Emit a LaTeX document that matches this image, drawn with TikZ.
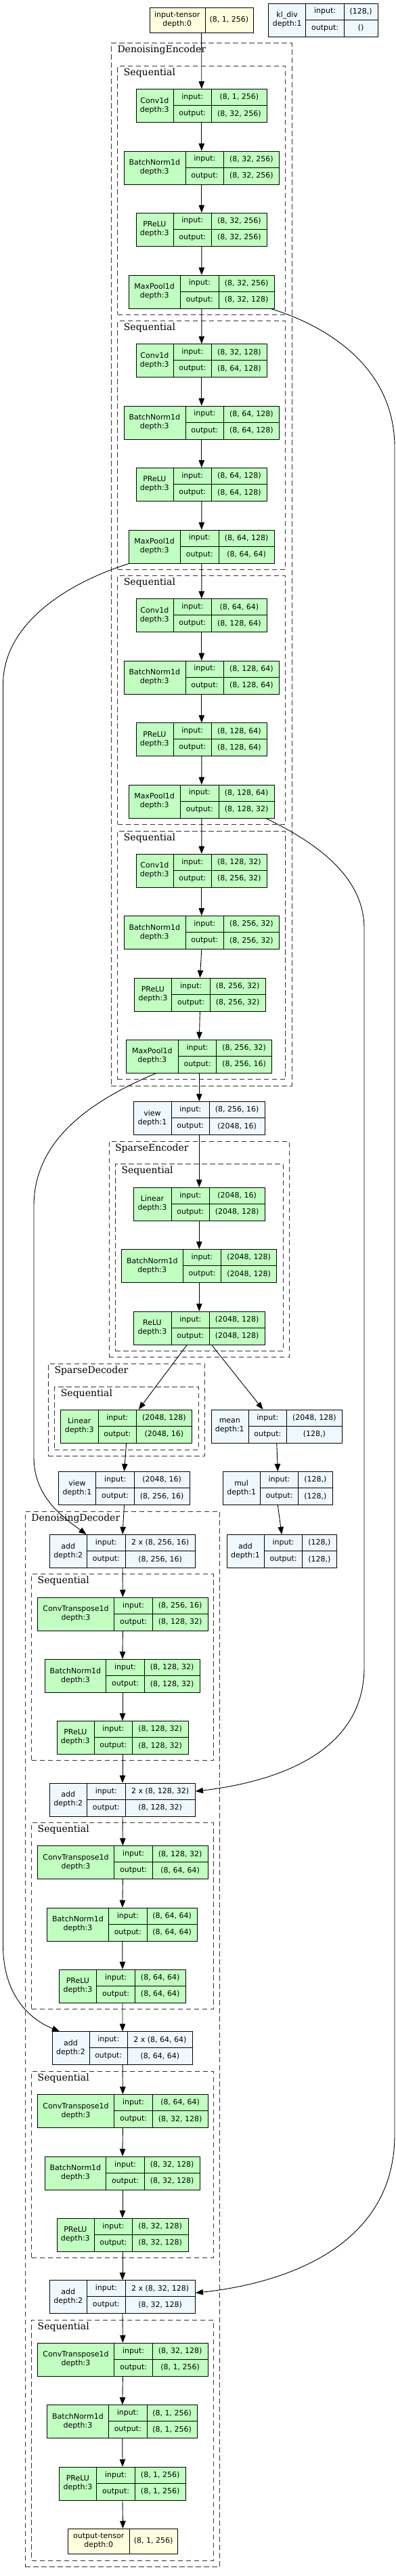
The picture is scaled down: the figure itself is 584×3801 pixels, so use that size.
\documentclass[tikz,border=0pt]{standalone}
\usepackage{fontspec}
\setmainfont{DejaVu Sans}
\newfontfamily\clusterfont{DejaVu Serif}
\usepackage{tikz}
\usetikzlibrary{arrows.meta}
\definecolor{tvgreen}{HTML}{C1FFC1}
\definecolor{tvyellow}{HTML}{FFFFE0}
\definecolor{tvblue}{HTML}{F0F8FF}

% a module box: name, fill, left x, title/input x, right x, top y, title, input, output
\newcommand\tvlayer[9]{%
  \node[tvbox,fill=#2,minimum width={(#5-#3)*1pt},anchor=north west] (#1) at (#3,#6) {};
  \draw[cellrule] (#4,#6) -- ++(0,49) ({#4+56.5},#6) -- ++(0,49)
    (#4,{#6+24.5}) -- (#5,{#6+24.5});
  \node[celltext] (#1-title) at ({(#3+#4)/2},{#6+24.5}) {#7};
  \node[celltext] (#1-in) at ({#4+28.25},{#6+12.25}) {input:};
  \node[celltext] (#1-out) at ({#4+28.25},{#6+36.75}) {output:};
  \node[celltext] (#1-inval) at ({(#4+56.5+#5)/2},{#6+12.25}) {#8};
  \node[celltext] (#1-outval) at ({(#4+56.5+#5)/2},{#6+36.75}) {#9};}
% a tensor box: name, left x, divider x, right x, top y, title, shape
\newcommand\tvtensor[7]{%
  \node[tvbox,fill=tvyellow,minimum width={(#4-#2)*1pt},minimum height=37.5pt,
        anchor=north west] (#1) at (#2,#5) {};
  \draw[cellrule] (#3,#5) -- ++(0,37.5);
  \node[celltext] (#1-title) at ({(#2+#3)/2},{#5+18.75}) {#6};
  \node[celltext] (#1-val) at ({(#3+#4)/2},{#5+18.75}) {#7};}
% a dashed cluster: name, left, top, right, bottom, label
\newcommand\tvcluster[6]{%
  \node[cluster,minimum width={(#4-#2)*1pt},minimum height={(#5-#3)*1pt},
        anchor=north west] (#1) at (#2,#3) {};
  \node[clusterlabel] (#1-label) at ({#2+9.4},{#3+10.7}) {#6};}

\begin{document}
\begin{tikzpicture}[
  x=1pt,y=-1pt,
  tvbox/.style={draw=black,line width=0.9pt,inner sep=0pt,minimum height=49pt},
  cellrule/.style={draw=black,line width=0.9pt},
  celltext/.style={inner sep=0pt,align=center,font=\fontsize{11}{13}\selectfont},
  cluster/.style={draw=black!80,line width=0.9pt,dash pattern=on 7.5pt off 4.5pt,
                  inner sep=0pt},
  clusterlabel/.style={anchor=west,inner sep=0pt,
                       font=\clusterfont\fontsize{14}{16}\selectfont},
  flow/.style={-{Triangle[length=11pt,width=8.5pt]},line width=0.9pt,draw=black},
]
\useasboundingbox (0,0) rectangle (584,3801);

% clusters
\tvcluster{enc}{163.9}{63.3}{430.5}{1601.7}{DenoisingEncoder}
\tvcluster{encseqa}{173.3}{97.3}{421.1}{464}{Sequential}
\tvcluster{encseqb}{173.3}{473.3}{421.1}{840}{Sequential}
\tvcluster{encseqc}{173.3}{849.3}{421.1}{1216}{Sequential}
\tvcluster{encseqd}{173.3}{1225.7}{421.1}{1592.3}{Sequential}
\tvcluster{senc}{160.5}{1684}{427.1}{2002.3}{SparseEncoder}
\tvcluster{sencseq}{169.9}{1717.3}{417.8}{1993}{Sequential}
\tvcluster{sdec}{70.9}{2012}{301.9}{2148}{SparseDecoder}
\tvcluster{sdecseq}{80.3}{2046}{292.5}{2138.7}{Sequential}
\tvcluster{dec}{36.8}{2230}{324.4}{3786.7}{DenoisingDecoder}
\tvcluster{decseqa}{46.1}{2322.3}{315}{2597.3}{Sequential}
\tvcluster{decseqb}{46.1}{2689.3}{315}{2964.3}{Sequential}
\tvcluster{decseqc}{46.1}{3056}{315}{3331}{Sequential}
\tvcluster{decseqd}{46.1}{3422.7}{315}{3777.7}{Sequential}

% input and the loss term
\tvtensor{input}{220.5}{303}{373.9}{10.7}{input-tensor\\depth:0}{(8, 1, 256)}
\tvlayer{kldiv}{tvblue}{396.4}{451.9}{558}{4.7}{kl\_div\\depth:1}{(128,)}{()}

% denoising encoder
\tvlayer{conv1}{tvgreen}{200.6}{256.1}{394.1}{131}{Conv1d\\depth:3}{(8, 1, 256)}{(8, 32, 256)}
\tvlayer{norm1}{tvgreen}{182.6}{274.1}{412.1}{222.7}{BatchNorm1d\\depth:3}{(8, 32, 256)}{(8, 32, 256)}
\tvlayer{prelu1}{tvgreen}{200.6}{256.1}{394.1}{313.7}{PReLU\\depth:3}{(8, 32, 256)}{(8, 32, 256)}
\tvlayer{pool1}{tvgreen}{189.8}{266.6}{405}{405.7}{MaxPool1d\\depth:3}{(8, 32, 256)}{(8, 32, 128)}
\tvlayer{conv2}{tvgreen}{200.6}{256.1}{394.1}{507.3}{Conv1d\\depth:3}{(8, 32, 128)}{(8, 64, 128)}
\tvlayer{norm2}{tvgreen}{182.6}{274.1}{412.1}{598.7}{BatchNorm1d\\depth:3}{(8, 64, 128)}{(8, 64, 128)}
\tvlayer{prelu2}{tvgreen}{200.6}{256.1}{394.1}{690}{PReLU\\depth:3}{(8, 64, 128)}{(8, 64, 128)}
\tvlayer{pool2}{tvgreen}{189.8}{266.6}{405}{781.7}{MaxPool1d\\depth:3}{(8, 64, 128)}{(8, 64, 64)}
\tvlayer{conv3}{tvgreen}{200.6}{256.1}{394.1}{883.3}{Conv1d\\depth:3}{(8, 64, 64)}{(8, 128, 64)}
\tvlayer{norm3}{tvgreen}{182.6}{274.1}{412.1}{974.7}{BatchNorm1d\\depth:3}{(8, 128, 64)}{(8, 128, 64)}
\tvlayer{prelu3}{tvgreen}{200.6}{256.1}{394.1}{1066.3}{PReLU\\depth:3}{(8, 128, 64)}{(8, 128, 64)}
\tvlayer{pool3}{tvgreen}{189.8}{266.6}{405}{1157.7}{MaxPool1d\\depth:3}{(8, 128, 64)}{(8, 128, 32)}
\tvlayer{conv4}{tvgreen}{200.6}{256.1}{394.1}{1259.7}{Conv1d\\depth:3}{(8, 128, 32)}{(8, 256, 32)}
\tvlayer{norm4}{tvgreen}{182.6}{274.1}{412.1}{1351}{BatchNorm1d\\depth:3}{(8, 256, 32)}{(8, 256, 32)}
\tvlayer{prelu4}{tvgreen}{198}{253.9}{391.9}{1442.7}{PReLU\\depth:3}{(8, 256, 32)}{(8, 256, 32)}
\tvlayer{pool4}{tvgreen}{186.4}{263.3}{401.3}{1533.7}{MaxPool1d\\depth:3}{(8, 256, 32)}{(8, 256, 16)}

% sparse encoder / decoder
\tvlayer{view1}{tvblue}{196.9}{253.1}{390.8}{1625}{view\\depth:1}{(8, 256, 16)}{(2048, 16)}
\tvlayer{linear1}{tvgreen}{196.9}{253.1}{390.8}{1751.7}{Linear\\depth:3}{(2048, 16)}{(2048, 128)}
\tvlayer{norm5}{tvgreen}{179.3}{270.4}{408.4}{1843}{BatchNorm1d\\depth:3}{(2048, 128)}{(2048, 128)}
\tvlayer{relu}{tvgreen}{196.9}{253.1}{390.8}{1934.7}{ReLU\\depth:3}{(2048, 128)}{(2048, 128)}
\tvlayer{linear2}{tvgreen}{89.3}{145.1}{283.1}{2079.7}{Linear\\depth:3}{(2048, 128)}{(2048, 16)}
\tvlayer{mean}{tvblue}{311.6}{367.1}{505.1}{2079.7}{mean\\depth:1}{(2048, 128)}{(128,)}
\tvlayer{view2}{tvblue}{86.3}{141.8}{279.8}{2171}{view\\depth:1}{(2048, 16)}{(8, 256, 16)}
\tvlayer{mul}{tvblue}{328.9}{384.4}{490.9}{2171}{mul\\depth:1}{(128,)}{(128,)}
\tvlayer{addk}{tvblue}{334.5}{390.4}{496.9}{2264}{add\\depth:1}{(128,)}{(128,)}

% denoising decoder
\tvlayer{add1}{tvblue}{73.1}{128.6}{288}{2264}{add\\depth:2}{2 x (8, 256, 16)}{(8, 256, 16)}
\tvlayer{deconv1}{tvgreen}{55.1}{168.8}{306.8}{2356.7}{ConvTranspose1d\\depth:3}{(8, 256, 16)}{(8, 128, 32)}
\tvlayer{dnorm1}{tvgreen}{66}{156.8}{295.1}{2448}{BatchNorm1d\\depth:3}{(8, 128, 32)}{(8, 128, 32)}
\tvlayer{dprelu1}{tvgreen}{83.6}{139.1}{277.5}{2539}{PReLU\\depth:3}{(8, 128, 32)}{(8, 128, 32)}
\tvlayer{add2}{tvblue}{73.1}{128.6}{288}{2630.7}{add\\depth:2}{2 x (8, 128, 32)}{(8, 128, 32)}
\tvlayer{deconv2}{tvgreen}{55.1}{168.8}{306.8}{2723.3}{ConvTranspose1d\\depth:3}{(8, 128, 32)}{(8, 64, 64)}
\tvlayer{dnorm2}{tvgreen}{69.4}{160.5}{291.4}{2814.7}{BatchNorm1d\\depth:3}{(8, 64, 64)}{(8, 64, 64)}
\tvlayer{dprelu2}{tvgreen}{87}{142.9}{274.1}{2905.7}{PReLU\\depth:3}{(8, 64, 64)}{(8, 64, 64)}
\tvlayer{add3}{tvblue}{76.9}{132}{284.3}{2997.3}{add\\depth:2}{2 x (8, 64, 64)}{(8, 64, 64)}
\tvlayer{deconv3}{tvgreen}{55.1}{168.8}{306.8}{3090}{ConvTranspose1d\\depth:3}{(8, 64, 64)}{(8, 32, 128)}
\tvlayer{dnorm3}{tvgreen}{66}{156.8}{295.1}{3181.7}{BatchNorm1d\\depth:3}{(8, 32, 128)}{(8, 32, 128)}
\tvlayer{dprelu3}{tvgreen}{83.6}{139.1}{277.5}{3272.7}{PReLU\\depth:3}{(8, 32, 128)}{(8, 32, 128)}
\tvlayer{add4}{tvblue}{73.1}{128.6}{288}{3364.3}{add\\depth:2}{2 x (8, 32, 128)}{(8, 32, 128)}
\tvlayer{deconv4}{tvgreen}{55.1}{168.8}{306.8}{3456.7}{ConvTranspose1d\\depth:3}{(8, 32, 128)}{(8, 1, 256)}
\tvlayer{dnorm4}{tvgreen}{69.4}{160.5}{291.4}{3548.3}{BatchNorm1d\\depth:3}{(8, 1, 256)}{(8, 1, 256)}
\tvlayer{dprelu4}{tvgreen}{87}{142.9}{274.1}{3639.7}{PReLU\\depth:3}{(8, 1, 256)}{(8, 1, 256)}
\tvtensor{output}{100.1}{191.3}{262.1}{3730.7}{output-tensor\\depth:0}{(8, 1, 256)}

% main chain
\draw[flow] (input.south) -- (conv1.north);
\draw[flow] (conv1.south) -- (norm1.north);
\draw[flow] (norm1.south) -- (prelu1.north);
\draw[flow] (prelu1.south) -- (pool1.north);
\draw[flow] (pool1.south) -- (conv2.north);
\draw[flow] (conv2.south) -- (norm2.north);
\draw[flow] (norm2.south) -- (prelu2.north);
\draw[flow] (prelu2.south) -- (pool2.north);
\draw[flow] (pool2.south) -- (conv3.north);
\draw[flow] (conv3.south) -- (norm3.north);
\draw[flow] (norm3.south) -- (prelu3.north);
\draw[flow] (prelu3.south) -- (pool3.north);
\draw[flow] (pool3.south) -- (conv4.north);
\draw[flow] (conv4.south) -- (norm4.north);
\draw[flow] (norm4.south) -- (prelu4.north);
\draw[flow] (prelu4.south) -- (pool4.north);
\draw[flow] (pool4.south) -- (view1.north);
\draw[flow] (view1.south) -- (linear1.north);
\draw[flow] (linear1.south) -- (norm5.north);
\draw[flow] (norm5.south) -- (relu.north);
\draw[flow] ([xshift=-18.2pt]relu.south) -- ([xshift=18.2pt]linear2.north);
\draw[flow] ([xshift=18.5pt]relu.south) -- ([xshift=-20.3pt]mean.north);
\draw[flow] (linear2.south) -- (view2.north);
\draw[flow] (mean.south) -- (mul.north);
\draw[flow] (mul.south) -- (addk.north);
\draw[flow] (view2.south) -- (add1.north);
\draw[flow] (add1.south) -- (deconv1.north);
\draw[flow] (deconv1.south) -- (dnorm1.north);
\draw[flow] (dnorm1.south) -- (dprelu1.north);
\draw[flow] (dprelu1.south) -- (add2.north);
\draw[flow] (add2.south) -- (deconv2.north);
\draw[flow] (deconv2.south) -- (dnorm2.north);
\draw[flow] (dnorm2.south) -- (dprelu2.north);
\draw[flow] (dprelu2.south) -- (add3.north);
\draw[flow] (add3.south) -- (deconv3.north);
\draw[flow] (deconv3.south) -- (dnorm3.north);
\draw[flow] (dnorm3.south) -- (dprelu3.north);
\draw[flow] (dprelu3.south) -- (add4.north);
\draw[flow] (add4.south) -- (deconv4.north);
\draw[flow] (deconv4.south) -- (dnorm4.north);
\draw[flow] (dnorm4.south) -- (dprelu4.north);
\draw[flow] (dprelu4.south) -- (output.north);

% skip connections
\draw[flow] ([xshift=-5.6pt]pool1.south east) .. controls (480,480) and (583,540) .. (583,660)
  -- (583,3150) .. controls (583,3310) and (430,3368) .. ([yshift=6pt]add4.east);
\draw[flow] ([xshift=0.7pt]pool2.south west) .. controls (100,860) and (4.5,920) .. (4.5,1010)
  -- (4.5,2870) .. controls (4.5,2950) and (50,2982) .. ([xshift=11pt]add3.north west);
\draw[flow] ([xshift=-13pt]pool3.south east) .. controls (460,1240) and (538,1290) .. (538,1370)
  -- (538,2460) .. controls (538,2590) and (400,2630) .. ([yshift=12.5pt]add2.east);
\draw[flow] ([xshift=44.2pt]pool4.south west) .. controls (120,1630) and (50,1690) .. (50,1780)
  -- (50,2150) .. controls (50,2210) and (95,2240) .. ([xshift=54.4pt]add1.north west);

\end{tikzpicture}
\end{document}
